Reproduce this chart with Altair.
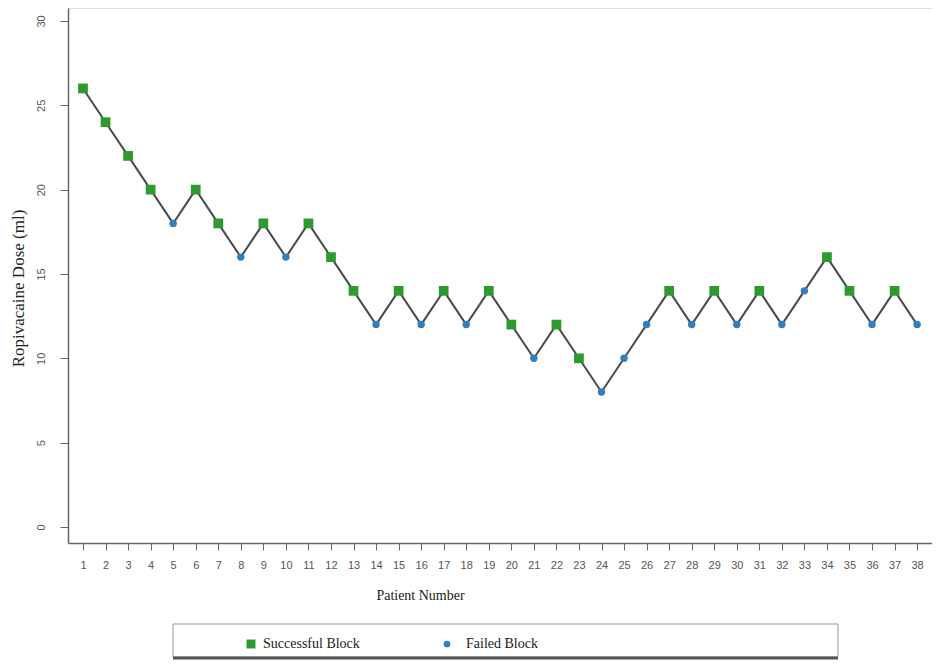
import altair as alt
import pandas as pd

patients = list(range(1, 39))
dose = [26, 24, 22, 20, 18, 20, 18, 16, 18, 16, 18, 16, 14, 12, 14, 12, 14, 12, 14,
        12, 10, 12, 10, 8, 10, 12, 14, 12, 14, 12, 14, 12, 14, 16, 14, 12, 14, 12]
codes = "SSSSFSSFSFSSSFSFSFSSFSSFFFSFSFSFFSSFSF"
labels = {"S": "Successful Block", "F": "Failed Block"}
outcome = [labels[c] for c in codes]
categories = ["Successful Block", "Failed Block"]
colors = ["#2e9a2e", "#2f7fc1"]
shapes = ["square", "circle"]
y_ticks = [0, 5, 10, 15, 20, 25, 30]

df = pd.DataFrame({"patient": patients, "dose": dose, "outcome": outcome})

x_enc = alt.X("patient:Q",
              scale=alt.Scale(domain=[0.335, 38.66], nice=False, zero=False),
              axis=alt.Axis(values=patients, format="d", labelAngle=0, labelOverlap=False,
                            labelFlush=False,
                            grid=False, tickSize=7, labelPadding=9, labelFontSize=11,
                            labelColor="#555", labelFont="Liberation Sans",
                            domainColor="#666", tickColor="#666", domainWidth=1.5,
                            title="Patient Number", titleFont="Liberation Serif",
                            titleFontSize=14, titleFontWeight="normal", titleColor="#222",
                            titleX=352, titleY=52, titleBaseline="middle",
                            titleAlign="center"))
y_enc = alt.Y("dose:Q",
              scale=alt.Scale(domain=[-0.95, 30.77], nice=False, zero=False),
              axis=alt.Axis(values=y_ticks, grid=False, tickSize=8, labelAngle=270,
                            labelPadding=14, labelFontSize=11, labelColor="#555",
                            labelFont="Liberation Sans", domainColor="#666", tickColor="#666",
                            domainWidth=1.5, title="Ropivacaine Dose (ml)",
                            titleFont="Liberation Serif", titleFontSize=17,
                            titleFontWeight="normal", titleColor="#222",
                            titleX=-50, titleY=280, titleBaseline="middle",
                            titleAlign="center", titleAngle=270))

line = alt.Chart(df).mark_line(color="#4a4a4a", strokeWidth=2).encode(x=x_enc, y=y_enc)
points = alt.Chart(df).mark_point(filled=True, opacity=1).encode(
    x=x_enc, y=y_enc,
    shape=alt.Shape("outcome:N", scale=alt.Scale(domain=categories, range=shapes), legend=None),
    color=alt.Color("outcome:N", scale=alt.Scale(domain=categories, range=colors), legend=None),
    size=alt.Size("outcome:N", scale=alt.Scale(domain=categories, range=[95, 55]), legend=None),
)

one = pd.DataFrame({"k": [0]})
box = alt.Chart(one).mark_rect(fill="white", stroke="#999", strokeWidth=1).encode(
    x=alt.value(105), x2=alt.value(770), y=alt.value(616), y2=alt.value(649))
box_shadow = alt.Chart(one).mark_rule(color="#555", strokeWidth=3).encode(
    x=alt.value(105), x2=alt.value(770), y=alt.value(650))

leg_s = alt.Chart(pd.DataFrame({"label": [categories[0]]})).mark_point(
    filled=True, opacity=1, shape="square", size=80, color=colors[0]).encode(
    x=alt.value(183), y=alt.value(636))
leg_f = alt.Chart(pd.DataFrame({"label": [categories[1]]})).mark_point(
    filled=True, opacity=1, shape="circle", size=45, color=colors[1]).encode(
    x=alt.value(379), y=alt.value(636))
txt_s = alt.Chart(pd.DataFrame({"label": [categories[0]]})).mark_text(
    align="left", baseline="middle", font="Liberation Serif", fontSize=14, color="#222").encode(
    x=alt.value(195), y=alt.value(636), text="label:N")
txt_f = alt.Chart(pd.DataFrame({"label": [categories[1]]})).mark_text(
    align="left", baseline="middle", font="Liberation Serif", fontSize=14, color="#222").encode(
    x=alt.value(398), y=alt.value(636), text="label:N")

chart = alt.layer(line, points, box, box_shadow, leg_s, leg_f, txt_s, txt_f).properties(
    width=864, height=535,
    autosize=alt.AutoSizeParams(type="none"),
    padding={"left": 60, "top": 0, "right": 0, "bottom": 120},
).configure_view(stroke=None).configure_axisX(labelOverlap=False).configure(background="white")

chart.save("out.html", embed_options={"renderer": "svg", "actions": False})
